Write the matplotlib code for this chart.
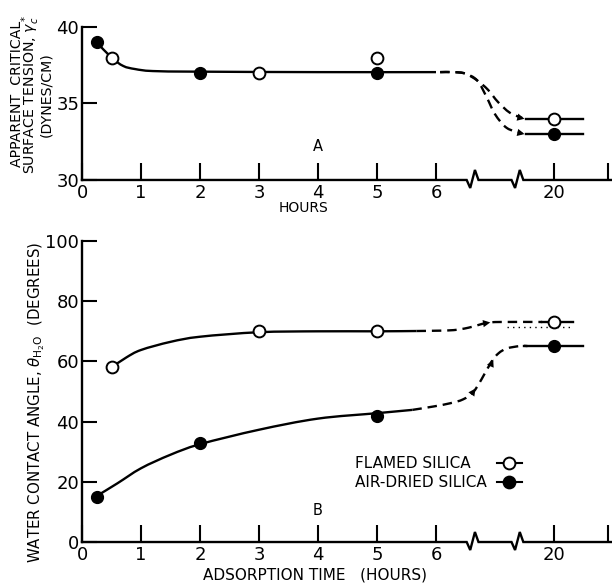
import numpy as np
import matplotlib
matplotlib.use("Agg")
import matplotlib.pyplot as plt
from matplotlib.path import Path
from matplotlib.patches import PathPatch

plt.rcParams['font.family'] = ['DejaVu Sans']
plt.rcParams['mathtext.fontset'] = 'dejavusans'

# ---- data ----
# hours; 20 h sits after the axis break
tick_hours = [0, 1, 2, 3, 4, 5, 6, 20]

# A: apparent critical surface tension (dynes/cm)
hours_flamed_a = [0.5, 3, 5, 20]
gamma_flamed = [38, 37, 38, 34]
hours_air_a = [0.25, 2, 5, 20]
gamma_air = [39, 37, 37, 33]

# B: water contact angle (degrees)
hours_flamed_b = [0.5, 3, 5, 20]
theta_flamed = [58, 70, 70, 73]
hours_air_b = [0.25, 2, 5, 20]
theta_air = [15, 33, 42, 65]

# hand-drawn trend lines (axis position, value)
a_solid_x = [0.25, 0.5, 0.7, 0.9, 1.2, 2.0, 4.0, 6.0]
a_solid_y = [39.0, 38.0, 37.45, 37.25, 37.12, 37.08, 37.05, 37.05]
a_dash_flamed_x = [6.07, 6.3, 6.5, 6.7, 6.88, 7.05, 7.25, 7.46]
a_dash_flamed_y = [37.05, 37.05, 36.95, 36.5, 35.9, 35.1, 34.4, 34.05]
a_dash_air_x = [6.07, 6.3, 6.5, 6.7, 6.86, 7.0, 7.2, 7.46]
a_dash_air_y = [37.05, 37.05, 36.95, 36.5, 35.4, 34.3, 33.4, 33.05]
a_tail_x = [7.52, 8.49]

b_flamed_x = [0.5, 0.75, 1.0, 1.5, 2.0, 3.0, 4.0, 5.0, 5.67]
b_flamed_y = [58, 61.3, 63.8, 66.5, 68.2, 69.7, 70, 70, 70.1]
b_dash_flamed_x = [5.67, 6.0, 6.3, 6.55, 6.86, 7.1, 7.8]
b_dash_flamed_y = [70.1, 70.2, 70.4, 71.2, 72.8, 73.1, 73.1]
b_tail_flamed_x = [7.8, 8.32]
b_dotted_x = [7.2, 8.32]
b_dotted_y = 71.4

b_air_x = [0.25, 0.6, 1.0, 1.5, 2.0, 3.0, 4.0, 5.0, 5.6]
b_air_y = [15.3, 19.5, 24.5, 29, 32.5, 37.3, 41, 42.8, 43.9]
b_dash_air_x = [5.6, 5.95, 6.24, 6.46, 6.63, 6.77, 6.94, 7.06, 7.2, 7.42, 7.55]
b_dash_air_y = [43.9, 45, 46.1, 47.4, 49.8, 54.0, 59.9, 62.7, 64.3, 65.1, 65.1]
b_tail_air_x = [7.5, 8.49]

# arrowheads (tail, tip)
a_arrows = [((7.33, 34.15), (7.5, 34.0)), ((7.33, 33.15), (7.5, 33.0))]
b_arrows = [((6.75, 72.4), (6.92, 72.95)), ((6.57, 48.2), (6.67, 51.0)),
            ((6.89, 57.0), (6.97, 60.6))]

breaks = [6.52, 7.28]

legend_labels = ['FLAMED SILICA', 'AIR-DRIED SILICA']


def pos(h):
    h = np.asarray(h, dtype=float)
    return np.where(h > 6, h - 12, h)


def smooth_path(xs, ys):
    pts = np.column_stack([xs, ys]).astype(float)
    n = len(pts)
    verts = [pts[0]]
    codes = [Path.MOVETO]
    for i in range(n - 1):
        p0 = pts[max(i - 1, 0)]
        p1 = pts[i]
        p2 = pts[i + 1]
        p3 = pts[min(i + 2, n - 1)]
        verts += [p1 + (p2 - p0) / 6, p2 - (p3 - p1) / 6, p2]
        codes += [Path.CURVE4] * 3
    return Path(verts, codes)


def curve(ax, xs, ys, dashed=False):
    ls = (0, (4, 2.5)) if dashed else '-'
    ax.add_patch(PathPatch(smooth_path(xs, ys), fill=False, lw=1.7,
                           ls=ls, edgecolor='k', capstyle='butt'))


def arrow(ax, tail, tip):
    ax.annotate('', xy=tip, xytext=tail,
                arrowprops=dict(arrowstyle='-|>', color='k', lw=0.01,
                                mutation_scale=13, shrinkA=0, shrinkB=0))


def setup(ax, ylim, yticks, fig):
    ax.set_xlim(0, 8.98)
    ax.set_ylim(*ylim)
    for s in ['top', 'right', 'bottom']:
        ax.spines[s].set_visible(False)
    ax.spines['left'].set_linewidth(1.7)
    ax.set_yticks(yticks)
    ax.set_xticks(list(pos(tick_hours)) + [8.92])
    ax.set_xticklabels([str(h) for h in tick_hours] + [''])
    ax.tick_params(axis='x', direction='in', length=12, width=1.5,
                   labelsize=13, pad=3)
    ax.tick_params(axis='y', direction='in', length=11, width=1.5,
                   labelsize=13, pad=2)
    # x-axis line with break marks
    hpx = ax.get_position().height * fig.get_figheight() * fig.dpi
    xs = [0]
    ys = [0]
    for b in breaks:
        xs += [b, b + 0.06, b + 0.14, b + 0.2]
        ys += [0, -8 / hpx, 10 / hpx, 0]
    xs.append(8.98)
    ys.append(0)
    ax.plot(xs, ys, color='k', lw=1.7, transform=ax.get_xaxis_transform(),
            clip_on=False, solid_joinstyle='miter')


fig = plt.figure(figsize=(6.12, 5.83), dpi=100)
ax1 = fig.add_axes([0.134, 0.6913, 0.8657, 0.2624])
ax2 = fig.add_axes([0.134, 0.0703, 0.8657, 0.5163])

# ---- panel A ----
setup(ax1, (30, 40), [30, 35, 40], fig)
curve(ax1, a_solid_x, a_solid_y)
curve(ax1, a_dash_flamed_x, a_dash_flamed_y, dashed=True)
curve(ax1, a_dash_air_x, a_dash_air_y, dashed=True)
ax1.plot(a_tail_x, [gamma_flamed[-1]] * 2, color='k', lw=1.7)
ax1.plot(a_tail_x, [gamma_air[-1]] * 2, color='k', lw=1.7)
for t, h in a_arrows:
    arrow(ax1, t, h)
ax1.plot(pos(hours_air_a), gamma_air, 'o', ms=8.5, color='k', zorder=4)
ax1.plot(pos(hours_flamed_a), gamma_flamed, 'o', ms=8.5, mfc='white',
         mec='k', mew=1.4, zorder=4)
ax1.text(4.0, 32.2, 'A', ha='center', va='center', fontsize=10.5)
ax1.text(-0.0953, 0.56,
         'APPARENT  CRITICAL\nSURFACE TENSION, $\\gamma_c^*$\n(DYNES/CM)',
         rotation=90, ha='center', va='center', multialignment='center',
         fontsize=10.2, linespacing=0.72, transform=ax1.transAxes)
ax1.set_xlabel('HOURS', fontsize=10)
ax1.xaxis.set_label_coords(0.419, -0.14)
ax1.xaxis.label.set_va('top')

# ---- panel B ----
setup(ax2, (0, 100), [0, 20, 40, 60, 80, 100], fig)
curve(ax2, b_flamed_x, b_flamed_y)
curve(ax2, b_dash_flamed_x, b_dash_flamed_y, dashed=True)
ax2.plot(b_tail_flamed_x, [theta_flamed[-1] + 0.1] * 2, color='k', lw=1.7)
ax2.plot(b_dotted_x, [b_dotted_y] * 2, color='k', lw=1.0, ls=(0, (1, 3)))
curve(ax2, b_air_x, b_air_y)
curve(ax2, b_dash_air_x, b_dash_air_y, dashed=True)
ax2.plot(b_tail_air_x, [theta_air[-1] + 0.1] * 2, color='k', lw=1.7)
for t, h in b_arrows:
    arrow(ax2, t, h)
ax2.plot(pos(hours_air_b), theta_air, 'o', ms=8.5, color='k', zorder=4)
ax2.plot(pos(hours_flamed_b), theta_flamed, 'o', ms=8.5, mfc='white',
         mec='k', mew=1.4, zorder=4)
ax2.text(4.0, 10.6, 'B', ha='center', va='center', fontsize=10.5)
ax2.text(-0.085, 0.465,
         'WATER CONTACT ANGLE, $\\theta_{\\mathrm{H_2O}}$  (DEGREES)',
         rotation=90, ha='center', va='center', fontsize=10.8,
         transform=ax2.transAxes)
ax2.set_xlabel('ADSORPTION TIME   (HOURS)', fontsize=11)
ax2.xaxis.set_label_coords(0.44, -0.086)
ax2.xaxis.label.set_va('top')

# key: labels left-aligned, symbol to the right
for lab, ya, face in zip(legend_labels, [0.262, 0.199], ['white', 'k']):
    ax2.text(0.515, ya, lab, ha='left', va='center', fontsize=11,
             transform=ax2.transAxes)
    ax2.plot([0.783, 0.830], [ya, ya], color='k', lw=1.5,
             transform=ax2.transAxes)
    ax2.plot([0.806], [ya], 'o', ms=8.5, mfc=face, mec='k', mew=1.4,
             transform=ax2.transAxes, zorder=4)

fig.savefig('out.png', dpi=100)
